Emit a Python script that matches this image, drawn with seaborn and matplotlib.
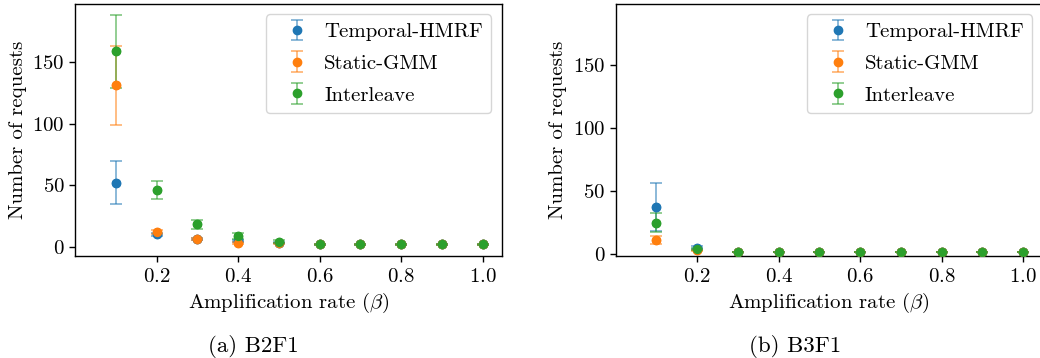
import numpy as np
import pandas as pd
import matplotlib
matplotlib.use("Agg")
import matplotlib.pyplot as plt
import seaborn as sns
from matplotlib.colors import to_rgba

sns.set_style("ticks")
plt.rcParams.update({
    "font.family": ["cmr10", "DejaVu Serif"],
    "mathtext.fontset": "cm",
    "axes.unicode_minus": False,
    "axes.formatter.use_mathtext": True,
    "font.size": 15,
    "axes.edgecolor": "black",
    "axes.linewidth": 1.0,
    "xtick.color": "black",
    "ytick.color": "black",
    "axes.labelcolor": "black",
    "text.color": "black",
})

rates = [0.1, 0.2, 0.3, 0.4, 0.5, 0.6, 0.7, 0.8, 0.9, 1.0]
methods = ["Temporal-HMRF", "Static-GMM", "Interleave"]

# B2F1
b2f1_hmrf = [52, 10.2, 6.2, 5, 3.5, 2.2, 2.2, 2.2, 2.2, 2.2]
b2f1_hmrf_err = [17.5, 1.0, 0.8, 0.8, 0.5, 0.3, 0.3, 0.3, 0.3, 0.3]
b2f1_gmm = [131, 11.9, 6.2, 3.5, 3.0, 2.2, 2.2, 2.2, 2.2, 2.2]
b2f1_gmm_err = [32, 1.5, 0.8, 0.8, 0.5, 0.3, 0.3, 0.3, 0.3, 0.3]
b2f1_inter = [158.6, 46.4, 18.3, 8.7, 4.3, 2.2, 2.2, 2.2, 2.2, 2.2]
b2f1_inter_err = [29.5, 7.5, 3.7, 2.6, 1.0, 0.3, 0.3, 0.3, 0.3, 0.3]

# B3F1
b3f1_hmrf = [37.2, 5.0, 1.6, 1.6, 1.6, 1.6, 1.6, 1.6, 1.6, 1.6]
b3f1_hmrf_err = [19, 1.0, 0.2, 0.2, 0.2, 0.2, 0.2, 0.2, 0.2, 0.2]
b3f1_gmm = [10.9, 3.0, 1.6, 1.6, 1.6, 1.6, 1.6, 1.6, 1.6, 1.6]
b3f1_gmm_err = [3.4, 0.5, 0.2, 0.2, 0.2, 0.2, 0.2, 0.2, 0.2, 0.2]
b3f1_inter = [24.6, 4.0, 1.6, 1.6, 1.6, 1.6, 1.6, 1.6, 1.6, 1.6]
b3f1_inter_err = [7.5, 0.6, 0.2, 0.2, 0.2, 0.2, 0.2, 0.2, 0.2, 0.2]

captions = ["(a) B2F1", "(b) B3F1"]
xlabel = r"Amplification rate ($\beta$)"
ylabel = "Number of requests"

palette = sns.color_palette("tab10", 3)

panels = [
    ([b2f1_hmrf, b2f1_gmm, b2f1_inter], [b2f1_hmrf_err, b2f1_gmm_err, b2f1_inter_err], (-7.3, 197)),
    ([b3f1_hmrf, b3f1_gmm, b3f1_inter], [b3f1_hmrf_err, b3f1_gmm_err, b3f1_inter_err], (-1.4, 198)),
]

fig = plt.figure(figsize=(10.4, 3.58), dpi=100)
rects = [
    [75 / 1040, (358 - 256) / 358, 426.7 / 1040, 252 / 358],
    [615.7 / 1040, (358 - 255.7) / 358, 426.7 / 1040, 251.7 / 358],
]
caption_x = [253.5 / 1040, 795 / 1040]

for rect, (vals, errs, ylim), cap, cx in zip(rects, panels, captions, caption_x):
    ax = fig.add_axes(rect)
    for name, v, e, c in zip(methods, vals, errs, palette):
        ax.errorbar(rates, v, yerr=e, fmt="o", color=c, ms=6,
                    ecolor=to_rgba(c, 0.6), elinewidth=1.2, capsize=4,
                    capthick=1.2, label=name, zorder=2)
        df = pd.DataFrame({"rate": rates, "val": v})
        sns.scatterplot(data=df, x="rate", y="val", color=c, s=45,
                        edgecolor=c, linewidth=0, ax=ax, legend=False, zorder=3)
    ax.set_xlim(0.0, 1.047)
    ax.set_ylim(*ylim)
    ax.set_xticks([0.2, 0.4, 0.6, 0.8, 1.0])
    ax.set_yticks([0, 50, 100, 150])
    ax.set_xlabel(xlabel, labelpad=4)
    ax.set_ylabel(ylabel, labelpad=4)
    for s in ax.spines.values():
        s.set_visible(True)
        s.set_color("black")
    ax.tick_params(direction="out", length=4, width=1, labelsize=15)
    ax.tick_params(axis="x", pad=4.5)
    ax.legend(loc="upper right", fontsize=15, frameon=True, framealpha=0.8,
              edgecolor="#cccccc", fancybox=True, handlelength=2.2,
              handletextpad=0.2, labelspacing=0.63)
    fig.text(cx, 1 - 346 / 358, cap, ha="center", va="center", fontsize=16.5)

fig.savefig("out.png", dpi=100)
